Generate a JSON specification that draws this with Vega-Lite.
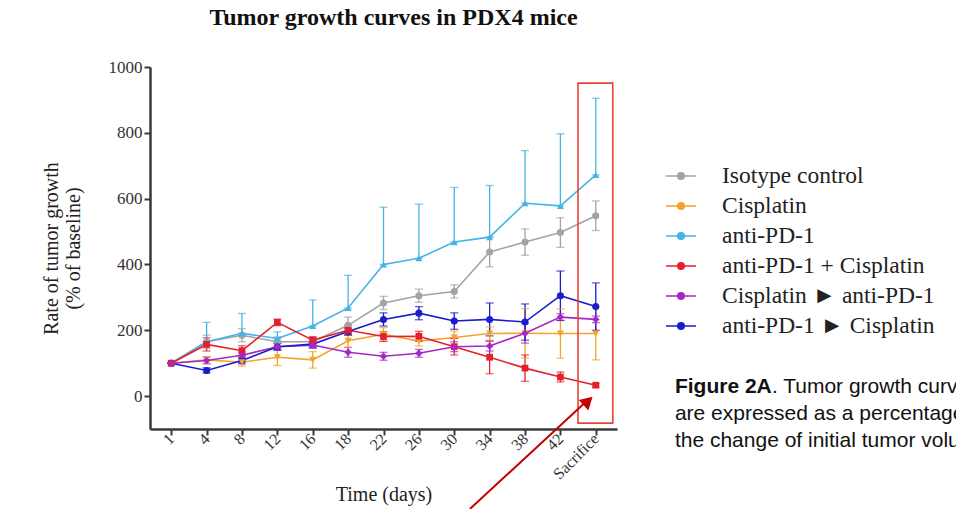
{
  "$schema": "https://vega.github.io/schema/vega-lite/v6.json",
  "width": 467,
  "height": 362,
  "autosize": {"type": "none"},
  "padding": {"left": 150, "top": 67, "right": 339, "bottom": 80},
  "background": "white",
  "title": {
    "text": "Tumor growth curves in PDX4 mice",
    "font": "Liberation Serif",
    "fontSize": 24,
    "fontWeight": "bold",
    "color": "#111",
    "anchor": "middle",
    "dx": 10,
    "offset": 28
  },
  "datasets": {
    "growth": [
      {"g": "Isotype control", "t": "1", "v": 100, "lo": 100, "hi": 100},
      {"g": "Isotype control", "t": "4", "v": 165, "lo": 145, "hi": 185},
      {"g": "Isotype control", "t": "8", "v": 185, "lo": 165, "hi": 205},
      {"g": "Isotype control", "t": "12", "v": 165, "lo": 150, "hi": 180},
      {"g": "Isotype control", "t": "16", "v": 165, "lo": 150, "hi": 180},
      {"g": "Isotype control", "t": "18", "v": 215, "lo": 190, "hi": 240},
      {"g": "Isotype control", "t": "22", "v": 283, "lo": 263, "hi": 303},
      {"g": "Isotype control", "t": "26", "v": 305, "lo": 285, "hi": 325},
      {"g": "Isotype control", "t": "30", "v": 318, "lo": 298, "hi": 338},
      {"g": "Isotype control", "t": "34", "v": 438, "lo": 393, "hi": 483},
      {"g": "Isotype control", "t": "38", "v": 468, "lo": 428, "hi": 508},
      {"g": "Isotype control", "t": "42", "v": 497, "lo": 452, "hi": 542},
      {"g": "Isotype control", "t": "Sacrifice", "v": 548, "lo": 503, "hi": 593},

      {"g": "Cisplatin", "t": "1", "v": 100, "lo": 100, "hi": 100},
      {"g": "Cisplatin", "t": "4", "v": 110, "lo": 100, "hi": 120},
      {"g": "Cisplatin", "t": "8", "v": 103, "lo": 91, "hi": 115},
      {"g": "Cisplatin", "t": "12", "v": 118, "lo": 93, "hi": 143},
      {"g": "Cisplatin", "t": "16", "v": 110, "lo": 85, "hi": 135},
      {"g": "Cisplatin", "t": "18", "v": 168, "lo": 148, "hi": 188},
      {"g": "Cisplatin", "t": "22", "v": 188, "lo": 168, "hi": 208},
      {"g": "Cisplatin", "t": "26", "v": 167, "lo": 152, "hi": 182},
      {"g": "Cisplatin", "t": "30", "v": 178, "lo": 158, "hi": 198},
      {"g": "Cisplatin", "t": "34", "v": 190, "lo": 170, "hi": 210},
      {"g": "Cisplatin", "t": "38", "v": 191, "lo": 116, "hi": 266},
      {"g": "Cisplatin", "t": "42", "v": 190, "lo": 115, "hi": 265},
      {"g": "Cisplatin", "t": "Sacrifice", "v": 190, "lo": 110, "hi": 270},

      {"g": "anti-PD-1", "t": "1", "v": 100, "lo": 100, "hi": 100},
      {"g": "anti-PD-1", "t": "4", "v": 165, "lo": 165, "hi": 224},
      {"g": "anti-PD-1", "t": "8", "v": 191, "lo": 191, "hi": 251},
      {"g": "anti-PD-1", "t": "12", "v": 175, "lo": 175, "hi": 195},
      {"g": "anti-PD-1", "t": "16", "v": 213, "lo": 213, "hi": 292},
      {"g": "anti-PD-1", "t": "18", "v": 268, "lo": 268, "hi": 367},
      {"g": "anti-PD-1", "t": "22", "v": 400, "lo": 400, "hi": 574},
      {"g": "anti-PD-1", "t": "26", "v": 419, "lo": 419, "hi": 583},
      {"g": "anti-PD-1", "t": "30", "v": 468, "lo": 468, "hi": 634},
      {"g": "anti-PD-1", "t": "34", "v": 483, "lo": 483, "hi": 640},
      {"g": "anti-PD-1", "t": "38", "v": 586, "lo": 586, "hi": 746},
      {"g": "anti-PD-1", "t": "42", "v": 578, "lo": 578, "hi": 797},
      {"g": "anti-PD-1", "t": "Sacrifice", "v": 672, "lo": 672, "hi": 905},

      {"g": "anti-PD-1 + Cisplatin", "t": "1", "v": 100, "lo": 100, "hi": 100},
      {"g": "anti-PD-1 + Cisplatin", "t": "4", "v": 157, "lo": 137, "hi": 177},
      {"g": "anti-PD-1 + Cisplatin", "t": "8", "v": 138, "lo": 123, "hi": 153},
      {"g": "anti-PD-1 + Cisplatin", "t": "12", "v": 224, "lo": 214, "hi": 234},
      {"g": "anti-PD-1 + Cisplatin", "t": "16", "v": 170, "lo": 160, "hi": 180},
      {"g": "anti-PD-1 + Cisplatin", "t": "18", "v": 200, "lo": 185, "hi": 215},
      {"g": "anti-PD-1 + Cisplatin", "t": "22", "v": 181, "lo": 166, "hi": 196},
      {"g": "anti-PD-1 + Cisplatin", "t": "26", "v": 182, "lo": 167, "hi": 197},
      {"g": "anti-PD-1 + Cisplatin", "t": "30", "v": 150, "lo": 125, "hi": 175},
      {"g": "anti-PD-1 + Cisplatin", "t": "34", "v": 118, "lo": 68, "hi": 168},
      {"g": "anti-PD-1 + Cisplatin", "t": "38", "v": 85, "lo": 45, "hi": 125},
      {"g": "anti-PD-1 + Cisplatin", "t": "42", "v": 58, "lo": 43, "hi": 73},
      {"g": "anti-PD-1 + Cisplatin", "t": "Sacrifice", "v": 33, "lo": 28, "hi": 38},

      {"g": "Cisplatin ► anti-PD-1", "t": "1", "v": 100, "lo": 100, "hi": 100},
      {"g": "Cisplatin ► anti-PD-1", "t": "4", "v": 108, "lo": 98, "hi": 118},
      {"g": "Cisplatin ► anti-PD-1", "t": "8", "v": 124, "lo": 114, "hi": 134},
      {"g": "Cisplatin ► anti-PD-1", "t": "12", "v": 150, "lo": 140, "hi": 160},
      {"g": "Cisplatin ► anti-PD-1", "t": "16", "v": 155, "lo": 145, "hi": 165},
      {"g": "Cisplatin ► anti-PD-1", "t": "18", "v": 133, "lo": 118, "hi": 148},
      {"g": "Cisplatin ► anti-PD-1", "t": "22", "v": 121, "lo": 109, "hi": 133},
      {"g": "Cisplatin ► anti-PD-1", "t": "26", "v": 130, "lo": 118, "hi": 142},
      {"g": "Cisplatin ► anti-PD-1", "t": "30", "v": 150, "lo": 135, "hi": 165},
      {"g": "Cisplatin ► anti-PD-1", "t": "34", "v": 152, "lo": 137, "hi": 167},
      {"g": "Cisplatin ► anti-PD-1", "t": "38", "v": 191, "lo": 161, "hi": 221},
      {"g": "Cisplatin ► anti-PD-1", "t": "42", "v": 240, "lo": 230, "hi": 250},
      {"g": "Cisplatin ► anti-PD-1", "t": "Sacrifice", "v": 233, "lo": 223, "hi": 243},

      {"g": "anti-PD-1 ► Cisplatin", "t": "1", "v": 100, "lo": 100, "hi": 100},
      {"g": "anti-PD-1 ► Cisplatin", "t": "4", "v": 78, "lo": 70, "hi": 86},
      {"g": "anti-PD-1 ► Cisplatin", "t": "8", "v": 108, "lo": 98, "hi": 118},
      {"g": "anti-PD-1 ► Cisplatin", "t": "12", "v": 150, "lo": 140, "hi": 160},
      {"g": "anti-PD-1 ► Cisplatin", "t": "16", "v": 158, "lo": 148, "hi": 168},
      {"g": "anti-PD-1 ► Cisplatin", "t": "18", "v": 196, "lo": 186, "hi": 206},
      {"g": "anti-PD-1 ► Cisplatin", "t": "22", "v": 233, "lo": 213, "hi": 253},
      {"g": "anti-PD-1 ► Cisplatin", "t": "26", "v": 252, "lo": 232, "hi": 272},
      {"g": "anti-PD-1 ► Cisplatin", "t": "30", "v": 228, "lo": 203, "hi": 253},
      {"g": "anti-PD-1 ► Cisplatin", "t": "34", "v": 233, "lo": 183, "hi": 283},
      {"g": "anti-PD-1 ► Cisplatin", "t": "38", "v": 225, "lo": 170, "hi": 280},
      {"g": "anti-PD-1 ► Cisplatin", "t": "42", "v": 305, "lo": 230, "hi": 380},
      {"g": "anti-PD-1 ► Cisplatin", "t": "Sacrifice", "v": 272, "lo": 200, "hi": 344}
    ]
  },
  "layer": [
    {
      "data": {"name": "growth"},
      "encoding": {
        "x": {
          "field": "t",
          "type": "ordinal",
          "scale": {"type": "point", "padding": 0.6, "domain": ["1", "4", "8", "12", "16", "18", "22", "26", "30", "34", "38", "42", "Sacrifice"]},
          "axis": {
            "title": "Time (days)",
            "labelAngle": -45,
            "labelAlign": "right",
            "labelBaseline": "middle",
            "labelPadding": 1,
            "labelFontSize": 16,
            "titlePadding": 3,
            "titleFontSize": 20
          }
        },
        "y": {
          "field": "v",
          "type": "quantitative",
          "scale": {"domain": [-100, 1000], "nice": false, "zero": false},
          "axis": {
            "title": ["Rate of tumor growth", "(% of baseline)"],
            "values": [0, 200, 400, 600, 800, 1000],
            "format": "d",
            "titlePadding": 25,
            "titleFontSize": 20
          }
        },
        "color": {
          "field": "g",
          "type": "nominal",
          "scale": {
            "domain": ["Isotype control", "Cisplatin", "anti-PD-1", "anti-PD-1 + Cisplatin", "Cisplatin ► anti-PD-1", "anti-PD-1 ► Cisplatin"],
            "range": ["#a3a3a3", "#f5a32a", "#45b3e7", "#e5202c", "#a628c4", "#1c1ccc"]
          },
          "legend": {
            "title": null,
            "orient": "none",
            "legendX": 515,
            "legendY": 93,
            "labelFont": "Liberation Serif",
            "labelFontSize": 23.5,
            "labelColor": "#222",
            "labelLimit": 400,
            "labelOffset": 25,
            "rowPadding": 2,
            "symbolType": "M-1,0H1M-0.22,0A0.22,0.22,0,1,0,0.22,0A0.22,0.22,0,1,0,-0.22,0Z",
            "symbolSize": 900,
            "symbolStrokeWidth": 1.5,
            "encode": {
              "symbols": {
                "update": {
                  "fill": {"scale": "color", "field": "value"},
                  "stroke": {"scale": "color", "field": "value"},
                  "strokeWidth": {"value": 1.5},
                  "opacity": {"value": 1}
                }
              }
            }
          }
        }
      },
      "layer": [
        {
          "mark": {"type": "line", "strokeWidth": 1.6}
        },
        {
          "mark": {"type": "rule", "strokeWidth": 1.3},
          "encoding": {
            "y": {
              "field": "lo",
              "type": "quantitative",
              "scale": {"domain": [-100, 1000], "nice": false, "zero": false},
              "axis": {"title": ["Rate of tumor growth", "(% of baseline)"], "values": [0, 200, 400, 600, 800, 1000], "format": "d", "titlePadding": 25, "titleFontSize": 20}
            },
            "y2": {"field": "hi"}
          }
        },
        {
          "mark": {"type": "tick", "thickness": 1.3, "size": 8},
          "encoding": {
            "y": {
              "field": "hi",
              "type": "quantitative",
              "scale": {"domain": [-100, 1000], "nice": false, "zero": false},
              "axis": {"title": ["Rate of tumor growth", "(% of baseline)"], "values": [0, 200, 400, 600, 800, 1000], "format": "d", "titlePadding": 25, "titleFontSize": 20}
            }
          }
        },
        {
          "mark": {"type": "tick", "thickness": 1.3, "size": 8},
          "encoding": {
            "y": {
              "field": "lo",
              "type": "quantitative",
              "scale": {"domain": [-100, 1000], "nice": false, "zero": false},
              "axis": {"title": ["Rate of tumor growth", "(% of baseline)"], "values": [0, 200, 400, 600, 800, 1000], "format": "d", "titlePadding": 25, "titleFontSize": 20}
            }
          }
        },
        {
          "transform": [{"filter": {"field": "g", "oneOf": ["Isotype control", "anti-PD-1 ► Cisplatin"]}}],
          "mark": {"type": "point", "shape": "circle", "filled": true, "size": 50, "opacity": 1}
        },
        {
          "transform": [{"filter": {"field": "g", "equal": "Cisplatin"}}],
          "mark": {"type": "point", "shape": "triangle-down", "filled": true, "size": 50, "opacity": 1}
        },
        {
          "transform": [{"filter": {"field": "g", "equal": "anti-PD-1"}}],
          "mark": {"type": "point", "shape": "triangle-up", "filled": true, "size": 50, "opacity": 1}
        },
        {
          "transform": [{"filter": {"field": "g", "equal": "anti-PD-1 + Cisplatin"}}],
          "mark": {"type": "point", "shape": "square", "filled": true, "size": 45, "opacity": 1}
        },
        {
          "transform": [{"filter": {"field": "g", "equal": "Cisplatin ► anti-PD-1"}}],
          "mark": {"type": "point", "shape": "diamond", "filled": true, "size": 55, "opacity": 1}
        }
      ]
    },
    {
      "data": {"values": [{}]},
      "layer": [
        {
          "mark": {"type": "rect", "fill": "transparent", "stroke": "#e8443a", "strokeWidth": 1.6},
          "encoding": {
            "x": {"datum": 0.9165, "type": "quantitative", "scale": {"domain": [0, 1], "nice": false, "zero": false}, "axis": null},
            "x2": {"datum": 0.991},
            "y": {"datum": -82, "type": "quantitative", "scale": {"domain": [-100, 1000], "nice": false, "zero": false}, "axis": null},
            "y2": {"datum": 951}
          }
        },
        {
          "mark": {"type": "rule", "color": "#c40000", "strokeWidth": 2},
          "encoding": {
            "x": {"datum": 0.685, "type": "quantitative", "scale": {"domain": [0, 1], "nice": false, "zero": false}, "axis": null},
            "x2": {"datum": 0.93},
            "y": {"datum": -343, "type": "quantitative", "scale": {"domain": [-100, 1000], "nice": false, "zero": false}, "axis": null},
            "y2": {"datum": -22}
          }
        },
        {
          "mark": {"type": "point", "shape": "triangle-up", "filled": true, "color": "#c40000", "size": 200, "angle": 47, "opacity": 1},
          "encoding": {
            "x": {"datum": 0.938, "type": "quantitative", "scale": {"domain": [0, 1], "nice": false, "zero": false}, "axis": null},
            "y": {"datum": -15, "type": "quantitative", "scale": {"domain": [-100, 1000], "nice": false, "zero": false}, "axis": null}
          }
        },
        {
          "mark": {"type": "text", "font": "Liberation Sans", "fontSize": 21, "fontWeight": "bold", "align": "left", "baseline": "alphabetic", "color": "#111", "text": "Figure 2A"},
          "encoding": {
            "x": {"datum": 1.124, "type": "quantitative", "scale": {"domain": [0, 1], "nice": false, "zero": false}, "axis": null},
            "y": {"datum": 9, "type": "quantitative", "scale": {"domain": [-100, 1000], "nice": false, "zero": false}, "axis": null}
          }
        },
        {
          "mark": {"type": "text", "font": "Liberation Sans", "fontSize": 21, "align": "left", "baseline": "alphabetic", "color": "#111", "dx": 97, "text": ". Tumor growth curves in PDX4 mice. Tumor volumes"},
          "encoding": {
            "x": {"datum": 1.124, "type": "quantitative", "scale": {"domain": [0, 1], "nice": false, "zero": false}, "axis": null},
            "y": {"datum": 9, "type": "quantitative", "scale": {"domain": [-100, 1000], "nice": false, "zero": false}, "axis": null}
          }
        },
        {
          "mark": {"type": "text", "font": "Liberation Sans", "fontSize": 21, "align": "left", "baseline": "alphabetic", "color": "#111", "lineBreak": "\n", "lineHeight": 27, "text": "are expressed as a percentage of baseline, showing\nthe change of initial tumor volume over time."},
          "encoding": {
            "x": {"datum": 1.124, "type": "quantitative", "scale": {"domain": [0, 1], "nice": false, "zero": false}, "axis": null},
            "y": {"datum": -73, "type": "quantitative", "scale": {"domain": [-100, 1000], "nice": false, "zero": false}, "axis": null}
          }
        }
      ]
    }
  ],
  "resolve": {"scale": {"x": "independent", "y": "independent"}},
  "config": {
    "view": {"stroke": null},
    "axis": {
      "grid": false,
      "domainColor": "#3a3a3a",
      "domainWidth": 2.5,
      "tickColor": "#3a3a3a",
      "tickWidth": 2,
      "tickSize": 6,
      "labelFont": "Liberation Serif",
      "labelFontSize": 17,
      "labelColor": "#333",
      "titleFont": "Liberation Serif",
      "titleFontWeight": "normal",
      "titleColor": "#222"
    }
  }
}
